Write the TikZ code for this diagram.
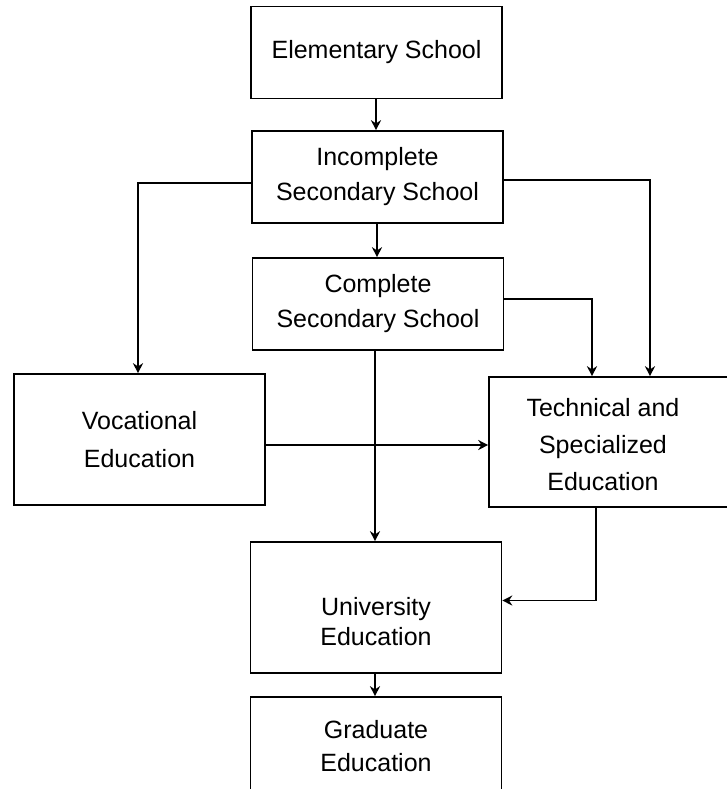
\documentclass[tikz,border=0pt]{standalone}
\usepackage{fontspec}
\setmainfont{Liberation Sans}
\usetikzlibrary{arrows.meta}
\tikzset{
    box/.style={draw, line width=0.8pt, rectangle, align=center,
        minimum width=125.5pt, minimum height=46pt, inner sep=2pt,
        font=\fontsize{12.5pt}{17.5pt}\selectfont},
    arr/.style={line width=0.8pt, -{Stealth[length=5pt,width=5pt]}}
}
\begin{document}
\begin{tikzpicture}[x=0.5pt,y=-0.5pt]
                %\draw[help lines] (0,0) grid (727,789);
                \clip (0,0) rectangle (727,789);
                \node[box] (elem) at (376.5,52.5) {Elementary School};
                \node[box] (inc) at (377.5,177) {Incomplete\\Secondary School};
                \node[box] (comp) at (378,304) {Complete\\Secondary School};
                \node[box, minimum height=65.5pt, font=\fontsize{12.5pt}{19pt}\selectfont] (voc) at (139.5,439.5) {Vocational\\Education};
                \node[box, minimum height=65pt] (techbox) at (614.5,442) {};
                \node[align=center, font=\fontsize{12.5pt}{18.5pt}\selectfont] (tech) at (603,445) {Technical and\\Specialized\\Education};
                \node[box, minimum height=65.5pt] (unibox) at (376,607.5) {};
                \node[align=center, font=\fontsize{12.5pt}{15pt}\selectfont] (uni) at (376,622) {University\\Education};
                \node[box, minimum height=49.5pt, font=\fontsize{12.5pt}{16.5pt}\selectfont] (grad) at (376,746.5) {Graduate\\Education};
                \draw[arr] (376,0 |- elem.south) -- (376,0 |- inc.north);
                \draw[arr] (377,0 |- inc.south) -- (377,0 |- comp.north);
                \draw[arr] ([yshift=-3pt]inc.west) -| (138,0 |- voc.north);
                \draw[arr] ([yshift=-1.5pt]inc.east) -| (650,0 |- techbox.north);
                \draw[arr] ([yshift=2.5pt]comp.east) -| (592,0 |- techbox.north);
                \draw[arr] (375,0 |- comp.south) -- (375,0 |- unibox.north);
                \draw[arr] (voc.east |- 0,445) -- (techbox.west |- 0,445);
                \draw[arr] (596,0 |- techbox.south) |- ([yshift=3.5pt]unibox.east);
                \draw[arr] (375,0 |- unibox.south) -- (375,0 |- grad.north);
\end{tikzpicture}
\end{document}
